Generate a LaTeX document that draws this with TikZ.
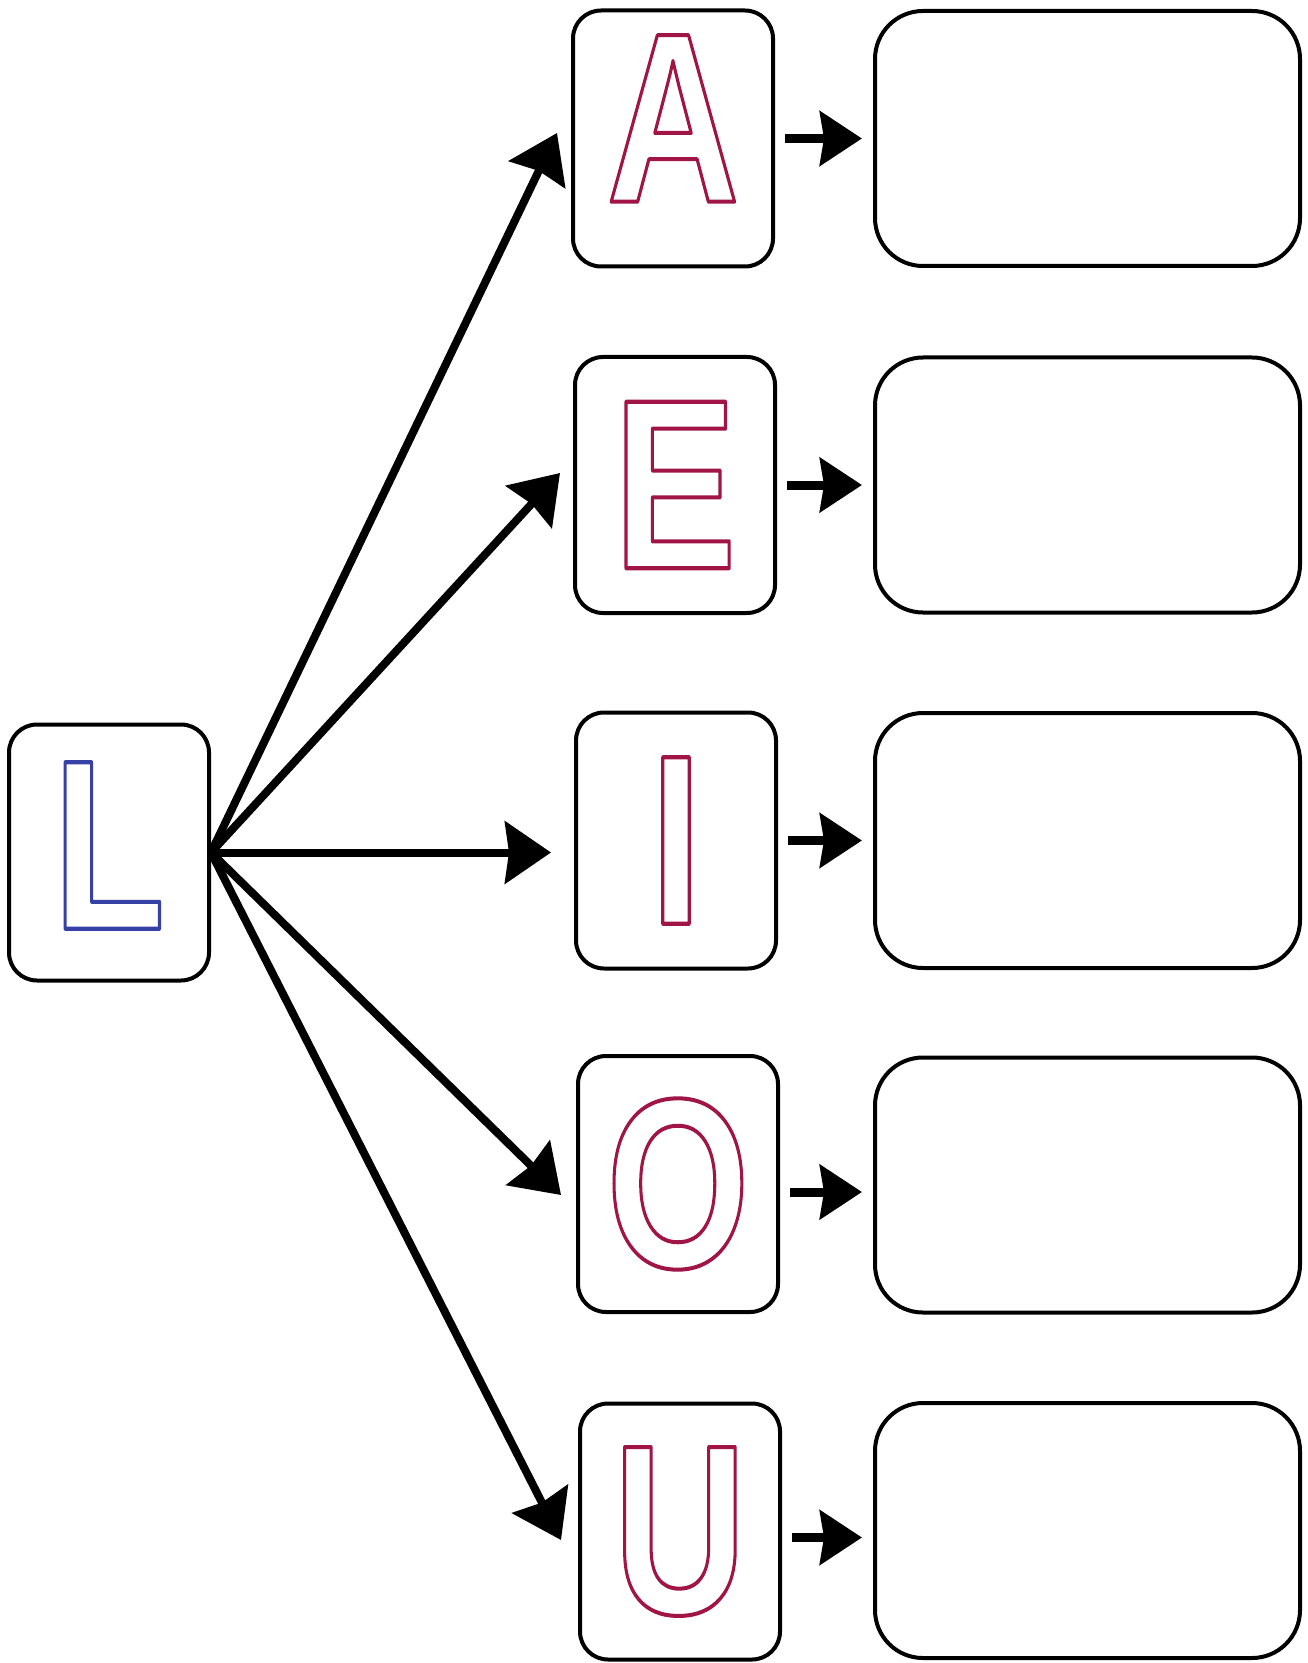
\documentclass[tikz,border=0pt]{standalone}
\usepackage{fontspec}
\usepackage{xcolor}
\usepackage{graphicx}
\usepackage{tikz}
\usetikzlibrary{arrows.meta,positioning,calc}
\newfontfamily\letterfont{Liberation Sans}
\definecolor{vowelred} {RGB}{160, 20, 70}
\definecolor{consblue} {RGB}{ 55, 65,165}
% hollow letter: glyph stroked, not filled
\newcommand{\hollow}[2]{\scalebox{0.76}[1]{\color{#1}%
  \special{pdf:literal direct 1 Tr 2 w 1 j}\textbf{#2}\special{pdf:literal direct 0 Tr 0 j}}}

\begin{document}
\begin{tikzpicture}[x=0.5pt,y=-0.5pt,
  every node/.style={font=\letterfont\fontsize{121pt}{121pt}\selectfont},
  letterbox/.style={draw, line width=2pt, rounded corners=14pt, fill=white,
                    minimum width=100pt, minimum height=128pt, inner sep=0pt},
  answerbox/.style={draw, line width=2pt, rounded corners=24pt, anchor=west,
                    minimum width=212.5pt, minimum height=127.5pt, inner sep=0pt},
  mainarrow/.style={-{Stealth[length=23pt,width=31pt,inset=2pt]}, line width=4pt},
  smallarrow/.style={-{Stealth[length=21pt,width=27pt,inset=2pt]}, line width=4.5pt,
                     shorten <=5pt, shorten >=5.5pt}]

\useasboundingbox (0,0) rectangle (1307,1663);

% consonant
\node[letterbox] (L) at (109,852.5)
  {\raisebox{3.5pt}[\height][\depth]{\hollow{consblue}{L}}};

% vowels
\node[letterbox] (A) at (673,138.5)
  {\raisebox{10pt}[\height][\depth]{\hollow{vowelred}{A}}};
\node[letterbox] (E) at (675,485)    {\hollow{vowelred}{E}};
\node[letterbox] (I) at (676,840.5)  {\hollow{vowelred}{I}};
\node[letterbox] (O) at (678,1184)   {\hollow{vowelred}{O}};
\node[letterbox] (U) at (680,1531.5) {\hollow{vowelred}{U}};

% empty boxes to write in
\node[answerbox] (Aans) at (873,138.5)  {};
\node[answerbox] (Eans) at (873,485)    {};
\node[answerbox] (Ians) at (873,840.5)  {};
\node[answerbox] (Oans) at (873,1185)   {};
\node[answerbox] (Uans) at (873,1530.5) {};

\draw[mainarrow] (L.east) -- ($(A.west)+(-14,-5.5)$);
\draw[mainarrow] (L.east) -- ($(E.west)+(-13,-12)$);
\draw[mainarrow, shorten >=11.5pt] (L.east) -- (L.east -| I.west);
\draw[mainarrow] (L.east) -- ($(O.west)+(-15,11)$);
\draw[mainarrow] (L.east) -- ($(U.west)+(-17,8.5)$);

\draw[smallarrow] (A.east) -- (A.east -| Aans.west);
\draw[smallarrow] (E.east) -- (E.east -| Eans.west);
\draw[smallarrow] (I.east) -- (I.east -| Ians.west);
\draw[smallarrow] ([yshift=-4pt]O.east) -- ([yshift=-4pt]O.east -| Oans.west);
\draw[smallarrow] ([yshift=-3pt]U.east) -- ([yshift=-3pt]U.east -| Uans.west);

\end{tikzpicture}
\end{document}
